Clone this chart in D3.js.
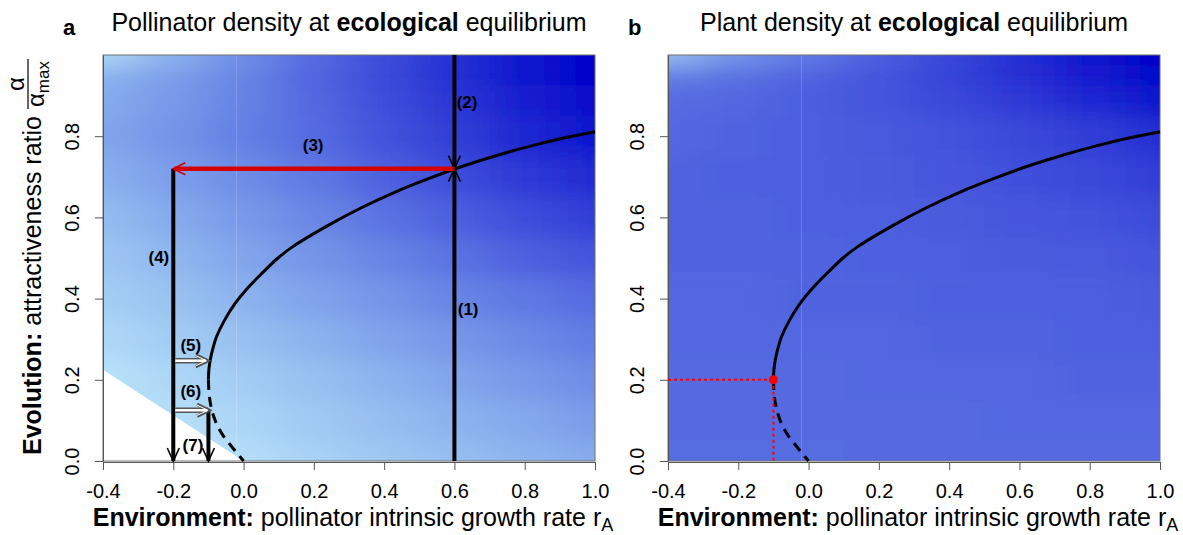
<!DOCTYPE html>
<html><head><meta charset="utf-8">
<script src="https://cdn.jsdelivr.net/npm/d3@7"></script>
<style>
body{margin:0;background:#fff;}
svg{display:block;font-family:"Liberation Sans",Arial,Helvetica,sans-serif;}
</style>
</head><body>
<svg id="chart" width="1183" height="535"></svg>
<script>
// ---------------- data ----------------
const rCols = [-0.4, -0.2, 0.0, 0.2, 0.4, 0.6, 0.8, 1.0];
const alphaRows = [1.0, 0.95, 0.9, 0.8, 0.7, 0.6, 0.5, 0.4, 0.3, 0.2, 0.1, 0.0];
const pollinatorDensity = [
  [0.10, 0.30, 0.45, 0.58, 0.70, 0.82, 0.92, 1.00],
  [0.30, 0.38, 0.48, 0.60, 0.71, 0.82, 0.92, 0.98],
  [0.33, 0.40, 0.49, 0.59, 0.69, 0.79, 0.88, 0.95],
  [0.35, 0.42, 0.50, 0.58, 0.67, 0.76, 0.85, 0.92],
  [0.31, 0.38, 0.45, 0.53, 0.61, 0.69, 0.77, 0.83],
  [0.26, 0.33, 0.40, 0.47, 0.55, 0.62, 0.69, 0.75],
  [0.21, 0.28, 0.35, 0.42, 0.48, 0.55, 0.61, 0.66],
  [0.16, 0.23, 0.30, 0.36, 0.42, 0.48, 0.53, 0.58],
  [0.10, 0.17, 0.24, 0.30, 0.36, 0.41, 0.46, 0.51],
  [0.04, 0.11, 0.17, 0.24, 0.30, 0.35, 0.40, 0.45],
  [0.02, 0.06, 0.12, 0.19, 0.25, 0.30, 0.34, 0.39],
  [0.00, 0.02, 0.07, 0.14, 0.20, 0.25, 0.29, 0.33]
];
// relative plant density at ecological equilibrium
const plantDensity = [
  [0.25, 0.42, 0.52, 0.62, 0.72, 0.82, 0.92, 1.00],
  [0.50, 0.55, 0.60, 0.66, 0.73, 0.81, 0.90, 0.97],
  [0.57, 0.59, 0.62, 0.66, 0.71, 0.77, 0.85, 0.92],
  [0.59, 0.60, 0.62, 0.64, 0.67, 0.71, 0.76, 0.82],
  [0.60, 0.61, 0.62, 0.63, 0.65, 0.68, 0.71, 0.75],
  [0.60, 0.60, 0.61, 0.62, 0.63, 0.65, 0.67, 0.70],
  [0.60, 0.60, 0.60, 0.61, 0.62, 0.63, 0.64, 0.66],
  [0.59, 0.59, 0.60, 0.60, 0.61, 0.61, 0.62, 0.63],
  [0.59, 0.59, 0.59, 0.59, 0.60, 0.60, 0.61, 0.61],
  [0.58, 0.58, 0.58, 0.59, 0.59, 0.59, 0.60, 0.60],
  [0.58, 0.58, 0.58, 0.58, 0.58, 0.59, 0.59, 0.59],
  [0.57, 0.57, 0.57, 0.58, 0.58, 0.58, 0.58, 0.58]
];
const xTicks = [-0.4, -0.2, 0.0, 0.2, 0.4, 0.6, 0.8, 1.0];
const xTickLabels = ["-0.4", "-0.2", "0.0", "0.2", "0.4", "0.6", "0.8", "1.0"];
const yTicks = [0.0, 0.2, 0.4, 0.6, 0.8];
const yTickLabels = ["0.0", "0.2", "0.4", "0.6", "0.8"];

// evolutionary equilibrium curve (stable branch, solid)
const eqSolidR = [-0.100, -0.0987, -0.0945, -0.088, -0.077, -0.054, -0.024, 0.015, 0.052, 0.098, 0.140, 0.242, 0.338, 0.433, 0.528, 0.623, 0.718, 0.813, 0.908, 1.000];
const eqSolidA = [0.200, 0.225, 0.250, 0.275, 0.306, 0.347, 0.388, 0.429, 0.462, 0.500, 0.528, 0.581, 0.625, 0.663, 0.696, 0.726, 0.752, 0.775, 0.795, 0.811];
// unstable branch (dashed)
const eqDashR = [-0.100, -0.0985, -0.094, -0.087, -0.076, -0.060, -0.038, -0.019, 0.000];
const eqDashA = [0.200, 0.170, 0.140, 0.115, 0.090, 0.065, 0.040, 0.020, 0.000];
// pollinator extinction region (white)
const extinctR = [-0.4, 0.0, -0.4];
const extinctA = [0.225, 0.0, 0.0];
// tipping point
const tipR = -0.1, tipA = 0.2;
// arrows in panel a
const blackArrows = [
  {r1: 0.6, a1: 0.0, r2: 0.6, a2: 0.72},
  {r1: 0.6, a1: 1.0, r2: 0.6, a2: 0.72},
  {r1: -0.2, a1: 0.72, r2: -0.2, a2: 0.0},
  {r1: -0.1, a1: 0.125, r2: -0.1, a2: 0.0}
];
const redArrow = {r1: 0.6, a1: 0.72, r2: -0.2, a2: 0.72};
const hollowArrows = [
  {r1: -0.2, a1: 0.247, r2: -0.102, a2: 0.247},
  {r1: -0.2, a1: 0.125, r2: -0.098, a2: 0.125}
];
const stepLabels = ["(1)", "(2)", "(3)", "(4)", "(5)", "(6)", "(7)"];
const stepR = [0.639, 0.636, 0.198, -0.241, -0.150, -0.150, -0.144];
const stepA = [0.374, 0.884, 0.778, 0.502, 0.286, 0.172, 0.039];

// ---------------- drawing ----------------
const svg = d3.select("#chart");
svg.append("rect").attr("width", 1183).attr("height", 535).attr("fill", "#fff");

const color = d3.scaleLinear()
  .domain([0, 0.25, 0.5, 0.6, 0.75, 1])
  .range(["#bfeafb", "#96bef0", "#6480e4", "#5064e0", "#323ed7", "#0000c8"])
  .interpolate(d3.interpolateRgb);

const TOP = 55, BOT = 461, PW = 492;
const y = d3.scaleLinear().domain([0, 1]).range([BOT, TOP]);
const defs = svg.append("defs");

function drawPanel(id, L, grid, letter, titleParts) {
  const x = d3.scaleLinear().domain([-0.4, 1.0]).range([L, L + PW]);
  const g = svg.append("g");

  defs.append("clipPath").attr("id", "clip" + id)
    .append("rect").attr("x", L).attr("y", TOP).attr("width", PW).attr("height", BOT - TOP);
  defs.append("filter").attr("id", "blur" + id).attr("filterUnits", "userSpaceOnUse")
    .attr("x", L - 150).attr("y", -150).attr("width", PW + 300).attr("height", 800)
    .append("feGaussianBlur").attr("stdDeviation", "24 10");

  const heat = g.append("g").attr("clip-path", `url(#clip${id})`);
  const cells = heat.append("g").attr("filter", `url(#blur${id})`);
  const EXT = 80;
  const cellData = [];
  alphaRows.forEach((a, j) => {
    rCols.forEach((r, i) => {
      const xl = i === 0 ? x(r) - EXT : x((rCols[i - 1] + r) / 2);
      const xr = i === rCols.length - 1 ? x(r) + EXT : x((rCols[i + 1] + r) / 2);
      const yt = j === 0 ? y(a) - EXT : y((alphaRows[j - 1] + a) / 2);
      const yb = j === alphaRows.length - 1 ? y(a) + EXT : y((alphaRows[j + 1] + a) / 2);
      cellData.push({xl, xr, yt, yb, v: grid[j][i]});
    });
  });
  cells.selectAll("rect").data(cellData).join("rect")
    .attr("x", d => d.xl).attr("y", d => d.yt)
    .attr("width", d => d.xr - d.xl + 0.5).attr("height", d => d.yb - d.yt + 0.5)
    .attr("fill", d => color(d.v));

  heat.append("line").attr("x1", x(-0.02)).attr("x2", x(-0.02)).attr("y1", TOP).attr("y2", BOT)
    .attr("stroke", "#fff").attr("stroke-opacity", 0.18).attr("stroke-width", 1);

  const overlay = g.append("g");

  g.append("rect").attr("x", L).attr("y", TOP).attr("width", PW).attr("height", BOT - TOP)
    .attr("fill", "none").attr("stroke", "#707070").attr("stroke-width", 1);

  const xa = g.append("g").attr("transform", `translate(0,${BOT + 1})`)
    .call(d3.axisBottom(x).tickValues(xTicks).tickFormat((d, i) => xTickLabels[i]).tickSize(8).tickSizeOuter(0));
  xa.select(".domain").attr("stroke", "#555");
  xa.selectAll(".tick line").attr("stroke", "#555");
  xa.selectAll(".tick text").attr("y", 36).attr("dy", null)
    .attr("font-size", 20).attr("fill", "#000").attr("font-family", "Liberation Sans, Arial, sans-serif");

  const ya = g.append("g").attr("transform", `translate(${L},0)`)
    .call(d3.axisLeft(y).tickValues(yTicks).tickFormat((d, i) => yTickLabels[i]).tickSize(8).tickSizeOuter(0));
  ya.select(".domain").attr("stroke", "#555");
  ya.selectAll(".tick line").attr("stroke", "#555");
  ya.selectAll(".tick text").attr("x", 0).attr("dy", null)
    .attr("transform", "translate(-24,0) rotate(-90)").attr("text-anchor", "middle")
    .attr("font-size", 20).attr("fill", "#000").attr("font-family", "Liberation Sans, Arial, sans-serif");

  const t = g.append("text").attr("x", L + PW / 2).attr("y", 31).attr("text-anchor", "middle")
    .attr("font-size", 25).attr("fill", "#000");
  titleParts.forEach(p => t.append("tspan").attr("font-weight", p.b ? "bold" : "normal").text(p.t));
  g.append("text").attr("x", L - 40).attr("y", 35).attr("font-size", 22).attr("font-weight", "bold").text(letter);

  const xl = g.append("text").attr("x", L + PW / 2 + 4).attr("y", 526).attr("text-anchor", "middle")
    .attr("font-size", 25).attr("fill", "#000");
  xl.append("tspan").attr("font-weight", "bold").text("Environment:");
  xl.append("tspan").text(" pollinator intrinsic growth rate r");
  xl.append("tspan").attr("font-size", 18).attr("dy", 5).text("A");

  return {g, x, overlay};
}

const pa = drawPanel("a", 103, pollinatorDensity, "a",
  [{t: "Pollinator density at "}, {t: "ecological", b: true}, {t: " equilibrium"}]);
const pb = drawPanel("b", 668, plantDensity, "b",
  [{t: "Plant density at "}, {t: "ecological", b: true}, {t: " equilibrium"}]);

// y label (shared, on the left)
const yl = svg.append("g").attr("transform", "translate(41,455) rotate(-90)");
const ylt = yl.append("text").attr("x", 0).attr("y", 0).attr("font-size", 25).attr("fill", "#000");
ylt.append("tspan").attr("font-weight", "bold").text("Evolution:");
ylt.append("tspan").text(" attractiveness ratio");
const tl = ylt.node().getComputedTextLength();
const den = yl.append("text").attr("y", 3).attr("font-size", 24).attr("text-anchor", "middle");
den.append("tspan").text("α");
den.append("tspan").attr("font-size", 17).attr("dy", 5).text("max");
const denW = den.node().getComputedTextLength();
const fx0 = tl + 7, fx1 = fx0 + denW + 4, fc = (fx0 + fx1) / 2;
den.attr("x", fc);
yl.append("line").attr("x1", fx0).attr("x2", fx1).attr("y1", -13).attr("y2", -13)
  .attr("stroke", "#000").attr("stroke-width", 1.2);
yl.append("text").attr("x", fc).attr("y", -17).attr("font-size", 24).attr("text-anchor", "middle").text("α");

// extinction region (panel a), drawn over heatmap
{
  const x = pa.x;
  pa.overlay.append("path")
    .attr("d", "M" + extinctR.map((r, i) => `${x(r)},${y(extinctA[i])}`).join("L") + "Z")
    .attr("fill", "#fff");
}

function drawCurves(p) {
  const line = d3.line().x(d => p.x(d[0])).y(d => y(d[1])).curve(d3.curveCatmullRom.alpha(0.5));
  const gc = p.g.append("g");
  gc.append("path").attr("d", line(eqDashR.map((r, i) => [r, eqDashA[i]])))
    .attr("fill", "none").attr("stroke", "#000").attr("stroke-width", 3).attr("stroke-dasharray", "10,7");
  gc.append("path").attr("d", line(eqSolidR.map((r, i) => [r, eqSolidA[i]])))
    .attr("fill", "none").attr("stroke", "#000").attr("stroke-width", 3);
}
drawCurves(pa);
drawCurves(pb);

function head(g, x1, y1, x2, y2, stroke, w, len, hw) {
  const ang = Math.atan2(y2 - y1, x2 - x1);
  const ca = Math.cos(ang), sa = Math.sin(ang);
  const p1 = [x2 - len * ca - hw * sa, y2 - len * sa + hw * ca];
  const p2 = [x2 - len * ca + hw * sa, y2 - len * sa - hw * ca];
  g.append("path").attr("d", `M${p1}L${x2},${y2}L${p2}`).attr("fill", "none")
    .attr("stroke", stroke).attr("stroke-width", w).attr("stroke-linejoin", "miter");
}
{
  const x = pa.x, g = pa.g.append("g");
  blackArrows.forEach(a => {
    g.append("line").attr("x1", x(a.r1)).attr("y1", y(a.a1)).attr("x2", x(a.r2)).attr("y2", y(a.a2))
      .attr("stroke", "#000").attr("stroke-width", 4);
    head(g, x(a.r1), y(a.a1), x(a.r2), y(a.a2), "#000", 1.6, 13, 6);
  });
  g.append("line").attr("x1", x(redArrow.r1)).attr("y1", y(redArrow.a1)).attr("x2", x(redArrow.r2) + 1).attr("y2", y(redArrow.a2))
    .attr("stroke", "#d40000").attr("stroke-width", 4.5);
  head(g, x(redArrow.r1), y(redArrow.a1), x(redArrow.r2), y(redArrow.a2), "#d40000", 1.6, 12, 6);
  hollowArrows.forEach(a => {
    const x1 = x(a.r1) + 2, x2 = x(a.r2), yy = y(a.a1);
    g.append("line").attr("x1", x1).attr("x2", x2 - 1).attr("y1", yy).attr("y2", yy)
      .attr("stroke", "#555").attr("stroke-width", 5.5);
    head(g, x1, yy, x2, yy, "#555", 3.2, 12, 6);
    g.append("line").attr("x1", x1).attr("x2", x2 - 2).attr("y1", yy).attr("y2", yy)
      .attr("stroke", "#fff").attr("stroke-width", 2.6);
    head(g, x1, yy, x2 - 1.2, yy, "#fff", 1.0, 11, 5.2);
  });
  stepLabels.forEach((s, i) => {
    g.append("text").attr("x", x(stepR[i])).attr("y", y(stepA[i])).attr("dy", "0.36em")
      .attr("text-anchor", "middle").attr("font-size", 17).attr("font-weight", "bold").text(s);
  });
}
{
  const x = pb.x, g = pb.g.append("g");
  g.append("line").attr("x1", x(-0.4)).attr("x2", x(tipR)).attr("y1", y(tipA)).attr("y2", y(tipA))
    .attr("stroke", "#ff0000").attr("stroke-width", 2).attr("stroke-dasharray", "3,3");
  g.append("line").attr("x1", x(tipR)).attr("x2", x(tipR)).attr("y1", y(tipA)).attr("y2", y(0))
    .attr("stroke", "#ff0000").attr("stroke-width", 2).attr("stroke-dasharray", "3,3");
  g.append("circle").attr("cx", x(tipR)).attr("cy", y(tipA)).attr("r", 4.5).attr("fill", "#ff0000");
}
</script>
</body></html>
